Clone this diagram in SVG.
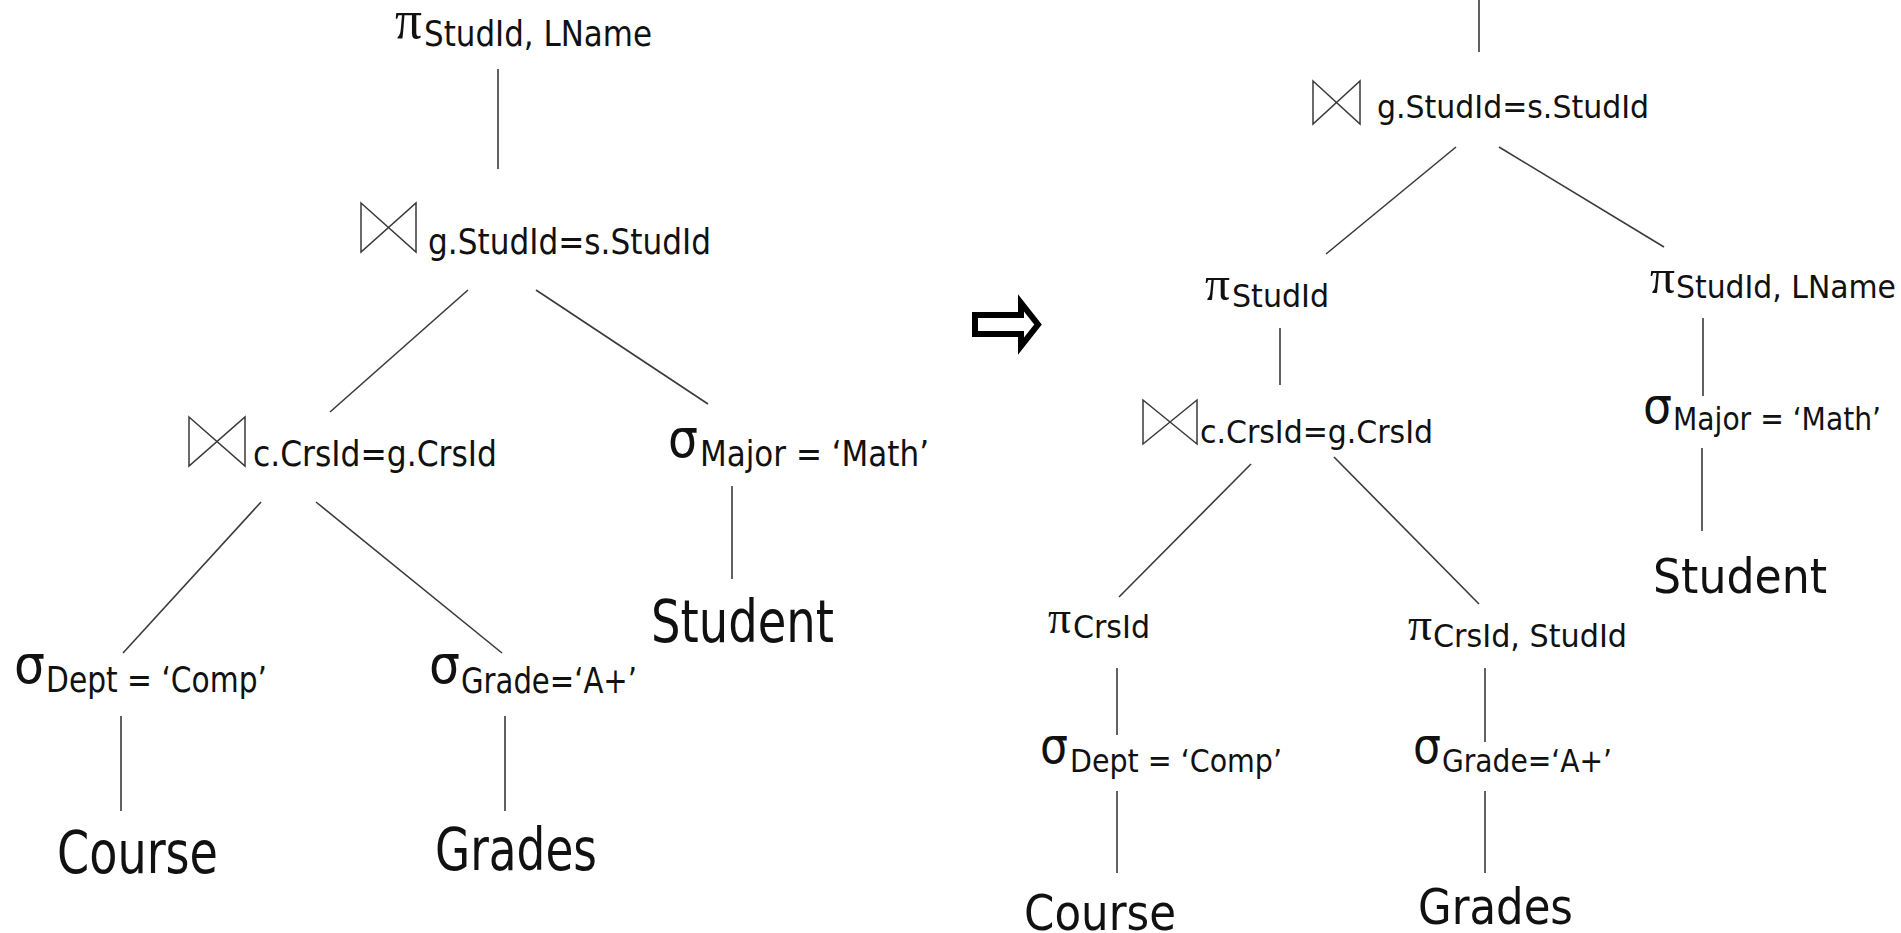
<svg xmlns="http://www.w3.org/2000/svg" width="1901" height="933" viewBox="0 0 1901 933">
  <style>
    .edge { stroke: #3a3a3a; stroke-width: 1.6; fill: none; }
    .join { stroke: #3a3a3a; stroke-width: 1.5; fill: none; stroke-linejoin: miter; }
    .sub  { font-family: "DejaVu Sans Condensed", "DejaVu Sans", sans-serif; fill: #111; }
    .subL { font-size: 36px; }
    .subR { font-size: 32px; }
    .pi   { font-family: "Liberation Serif", "DejaVu Serif", serif; fill: #111; }
    .sig  { font-family: "DejaVu Sans", sans-serif; fill: #111; }
    .rel  { font-family: "DejaVu Sans Condensed", "DejaVu Sans", sans-serif; fill: #111; }
  </style>
  <rect width="1901" height="933" fill="#ffffff"/>

  <!-- connectors -->
  <g id="connectors">
    <!-- initial plan -->
    <line class="edge" x1="498" y1="69" x2="498" y2="169"/>
    <line class="edge" x1="468" y1="290" x2="330" y2="412"/>
    <line class="edge" x1="536" y1="290" x2="708" y2="404"/>
    <line class="edge" x1="261" y1="502" x2="123" y2="653"/>
    <line class="edge" x1="316" y1="502" x2="502" y2="653"/>
    <line class="edge" x1="732" y1="486" x2="732" y2="579"/>
    <line class="edge" x1="121" y1="716" x2="121" y2="811"/>
    <line class="edge" x1="505" y1="716" x2="505" y2="811"/>
    <!-- optimised plan -->
    <line class="edge" x1="1479" y1="0" x2="1479" y2="52"/>
    <line class="edge" x1="1456" y1="147" x2="1326" y2="254"/>
    <line class="edge" x1="1499" y1="147" x2="1664" y2="247"/>
    <line class="edge" x1="1280" y1="328" x2="1280" y2="385"/>
    <line class="edge" x1="1703" y1="318" x2="1703" y2="396"/>
    <line class="edge" x1="1702" y1="448" x2="1702" y2="531"/>
    <line class="edge" x1="1251" y1="464" x2="1119" y2="597"/>
    <line class="edge" x1="1334" y1="457" x2="1479" y2="604"/>
    <line class="edge" x1="1117" y1="668" x2="1117" y2="735"/>
    <line class="edge" x1="1485" y1="668" x2="1485" y2="742"/>
    <line class="edge" x1="1117" y1="791" x2="1117" y2="873"/>
    <line class="edge" x1="1485" y1="791" x2="1485" y2="873"/>
  </g>

  <!-- rewrite arrow (hollow block arrow) -->
  <g id="rewrite-arrow">
    <path d="M975,315 L1021,315 L1021,303 L1038,324.5 L1021,346 L1021,334 L975,334 Z" fill="#ffffff" stroke="#000" stroke-width="6" stroke-linejoin="miter" stroke-miterlimit="4"/>
  </g>

  <!-- initial plan nodes -->
  <g id="L-proj">
    <text class="pi" x="395" y="38" font-size="54" textLength="27" lengthAdjust="spacingAndGlyphs">π</text>
    <text class="sub subL" x="424" y="46" textLength="228" lengthAdjust="spacingAndGlyphs">StudId, LName</text>
  </g>
  <g id="L-join-stud">
    <path class="join" d="M361,203 L416,252 L416,203 L361,252 Z"/>
    <text class="sub subL" x="428" y="254" textLength="283" lengthAdjust="spacingAndGlyphs">g.StudId=s.StudId</text>
  </g>
  <g id="L-join-crs">
    <path class="join" d="M189,417 L245,466 L245,417 L189,466 Z"/>
    <text class="sub subL" x="253" y="466" textLength="244" lengthAdjust="spacingAndGlyphs">c.CrsId=g.CrsId</text>
  </g>
  <g id="L-sel-major">
    <text class="sig" x="668" y="457" font-size="54" textLength="30" lengthAdjust="spacingAndGlyphs">σ</text>
    <text class="sub subL" x="700" y="466" textLength="229" lengthAdjust="spacingAndGlyphs">Major = ‘Math’</text>
  </g>
  <g id="L-student">
    <text class="rel" x="651" y="642" font-size="58" textLength="183" lengthAdjust="spacingAndGlyphs">Student</text>
  </g>
  <g id="L-sel-dept">
    <text class="sig" x="14" y="683" font-size="54" textLength="31" lengthAdjust="spacingAndGlyphs">σ</text>
    <text class="sub subL" x="46" y="692" textLength="221" lengthAdjust="spacingAndGlyphs">Dept = ‘Comp’</text>
  </g>
  <g id="L-sel-grade">
    <text class="sig" x="429" y="683" font-size="54" textLength="31" lengthAdjust="spacingAndGlyphs">σ</text>
    <text class="sub subL" x="461" y="693" textLength="176" lengthAdjust="spacingAndGlyphs">Grade=‘A+’</text>
  </g>
  <g id="L-course">
    <text class="rel" x="57" y="873" font-size="58" textLength="161" lengthAdjust="spacingAndGlyphs">Course</text>
  </g>
  <g id="L-grades">
    <text class="rel" x="435" y="870" font-size="58" textLength="162" lengthAdjust="spacingAndGlyphs">Grades</text>
  </g>

  <!-- optimised plan nodes -->
  <g id="R-join-stud">
    <path class="join" d="M1313,81 L1360,124 L1360,81 L1313,124 Z"/>
    <text class="sub subR" x="1377" y="118" textLength="272" lengthAdjust="spacingAndGlyphs">g.StudId=s.StudId</text>
  </g>
  <g id="R-proj-stud">
    <text class="pi" x="1205" y="300" font-size="48" textLength="25" lengthAdjust="spacingAndGlyphs">π</text>
    <text class="sub subR" x="1232" y="307" textLength="97" lengthAdjust="spacingAndGlyphs">StudId</text>
  </g>
  <g id="R-proj-stud-lname">
    <text class="pi" x="1650" y="293" font-size="48" textLength="25" lengthAdjust="spacingAndGlyphs">π</text>
    <text class="sub subR" x="1676" y="298" textLength="220" lengthAdjust="spacingAndGlyphs">StudId, LName</text>
  </g>
  <g id="R-join-crs">
    <path class="join" d="M1143,400 L1197,444 L1197,400 L1143,444 Z"/>
    <text class="sub subR" x="1200" y="443" textLength="233" lengthAdjust="spacingAndGlyphs">c.CrsId=g.CrsId</text>
  </g>
  <g id="R-sel-major">
    <text class="sig" x="1643" y="423" font-size="50" textLength="29" lengthAdjust="spacingAndGlyphs">σ</text>
    <text class="sub subR" x="1673" y="430" textLength="208" lengthAdjust="spacingAndGlyphs">Major = ‘Math’</text>
  </g>
  <g id="R-student">
    <text class="rel" x="1653" y="593" font-size="48" textLength="174" lengthAdjust="spacingAndGlyphs">Student</text>
  </g>
  <g id="R-proj-crs">
    <text class="pi" x="1048" y="633" font-size="46" textLength="23" lengthAdjust="spacingAndGlyphs">π</text>
    <text class="sub subR" x="1073" y="638" textLength="77" lengthAdjust="spacingAndGlyphs">CrsId</text>
  </g>
  <g id="R-proj-crs-stud">
    <text class="pi" x="1408" y="640" font-size="46" textLength="24" lengthAdjust="spacingAndGlyphs">π</text>
    <text class="sub subR" x="1433" y="647" textLength="194" lengthAdjust="spacingAndGlyphs">CrsId, StudId</text>
  </g>
  <g id="R-sel-dept">
    <text class="sig" x="1040" y="763" font-size="50" textLength="28" lengthAdjust="spacingAndGlyphs">σ</text>
    <text class="sub subR" x="1070" y="772" textLength="212" lengthAdjust="spacingAndGlyphs">Dept = ‘Comp’</text>
  </g>
  <g id="R-sel-grade">
    <text class="sig" x="1413" y="763" font-size="50" textLength="28" lengthAdjust="spacingAndGlyphs">σ</text>
    <text class="sub subR" x="1442" y="772" textLength="170" lengthAdjust="spacingAndGlyphs">Grade=‘A+’</text>
  </g>
  <g id="R-course">
    <text class="rel" x="1024" y="930" font-size="50" textLength="152" lengthAdjust="spacingAndGlyphs">Course</text>
  </g>
  <g id="R-grades">
    <text class="rel" x="1418" y="924" font-size="50" textLength="155" lengthAdjust="spacingAndGlyphs">Grades</text>
  </g>
</svg>
